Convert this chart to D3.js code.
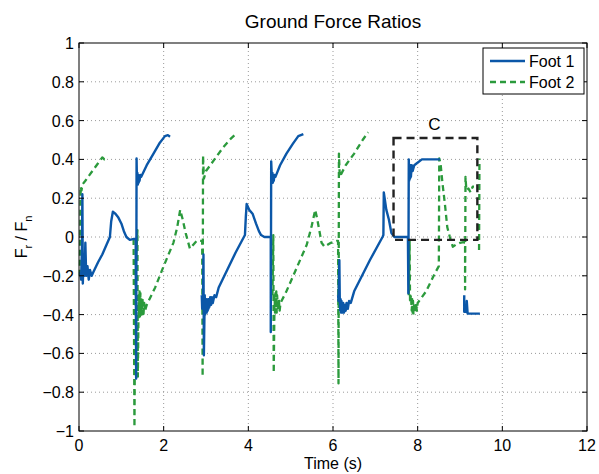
<!DOCTYPE html>
<html><head><meta charset="utf-8">
<script src="https://cdn.jsdelivr.net/npm/d3@7"></script>
<style>
body{margin:0;background:#fff}
text{font-family:"Liberation Sans",Arial,Helvetica,sans-serif;fill:#000}
</style>
</head><body>
<svg id="c" width="599" height="474"></svg>
<script>
// ---- data (time s, ratio) ; null = break in trace ----
const xTicks = [0, 2, 4, 6, 8, 10, 12];
const yTicks = [-1, -0.8, -0.6, -0.4, -0.2, 0, 0.2, 0.4, 0.6, 0.8, 1];
const seriesNames = ["Foot 1", "Foot 2"];

const foot1 = [
  [0.03,-0.18],[0.05,-0.22],[0.07,-0.05],[0.08,0.22],[0.09,-0.24],[0.11,-0.1],[0.13,-0.2],[0.15,-0.03],
  [0.17,-0.2],[0.2,-0.15],[0.23,-0.22],[0.26,-0.17],[0.3,-0.2],[0.34,-0.18],[0.45,-0.13],[0.55,-0.09],
  [0.65,-0.04],[0.73,0.0],[0.76,0.08],[0.8,0.13],[0.86,0.12],[0.93,0.1],[1.0,0.07],[1.06,0.03],
  [1.12,0.0],[1.2,-0.015],[1.3,-0.01],[1.34,-0.01],[1.35,-0.73],[1.36,0.405],[1.37,0.27],[1.38,0.33],
  [1.39,0.27],[1.40,0.32],[1.41,0.28],[1.42,0.31],[1.43,0.29],[1.45,0.32],[1.47,0.31],[1.6,0.37],
  [1.76,0.43],[1.91,0.486],[2.03,0.52],[2.1,0.525],[2.15,0.517],
  null,
  [2.9,-0.3],[2.91,-0.37],[2.93,-0.3],[2.94,-0.09],[2.95,-0.61],[2.97,-0.3],[2.98,-0.4],[2.99,-0.32],
  [3.0,-0.39],[3.01,-0.32],[3.02,-0.39],[3.03,-0.33],[3.04,-0.38],[3.05,-0.32],[3.06,-0.37],[3.07,-0.32],
  [3.08,-0.36],[3.1,-0.31],[3.12,-0.35],[3.14,-0.31],[3.16,-0.34],[3.2,-0.30],[3.24,-0.31],[3.3,-0.26],
  [3.5,-0.17],[3.7,-0.08],[3.92,0.01],[3.94,0.1],[3.96,0.17],[4.02,0.14],[4.1,0.12],[4.18,0.07],
  [4.25,0.03],[4.3,0.01],[4.38,0.0],[4.5,0.0],[4.53,0.0],[4.53,-0.49],[4.54,0.39],[4.56,0.28],
  [4.57,0.33],[4.58,0.28],[4.59,0.32],[4.6,0.29],[4.62,0.32],[4.64,0.31],[4.75,0.37],[4.9,0.43],
  [5.05,0.48],[5.18,0.52],[5.3,0.53],
  null,
  [6.12,-0.3],[6.13,-0.33],[6.15,-0.12],[6.16,-0.32],[6.17,-0.38],[6.18,-0.32],[6.19,-0.39],[6.2,-0.33],
  [6.21,-0.39],[6.22,-0.34],[6.23,-0.39],[6.24,-0.34],[6.26,-0.39],[6.28,-0.35],[6.3,-0.38],[6.32,-0.34],
  [6.35,-0.37],[6.38,-0.33],[6.42,-0.34],[6.5,-0.28],[6.87,-0.12],[7.17,0.0],[7.19,0.01],
  [7.2,0.23],[7.26,0.14],[7.32,0.09],[7.38,0.02],[7.45,0.0],[7.6,0.0],[7.77,0.0],[7.78,-0.29],
  [7.79,0.4],[7.8,0.29],[7.81,0.36],[7.82,0.3],[7.83,0.37],[7.84,0.31],[7.86,0.37],[7.88,0.34],
  [7.92,0.37],[7.98,0.38],[8.1,0.40],[8.53,0.40],
  null,
  [9.1,-0.30],[9.1,-0.385],[9.15,-0.385],[9.16,-0.33],[9.18,-0.395],[9.25,-0.395],[9.47,-0.395]
];

const foot2 = [
  [0.02,-0.2],[0.03,0.0],[0.04,0.26],[0.06,0.24],[0.08,0.27],[0.15,0.29],[0.25,0.32],[0.35,0.35],
  [0.45,0.38],[0.55,0.41],[0.6,0.40],[0.66,0.405],
  null,
  [1.29,-0.01],[1.31,-0.98],[1.33,-0.2],[1.38,0.035],[1.39,-0.72],[1.41,-0.3],[1.42,-0.4],[1.43,-0.28],
  [1.44,-0.41],[1.45,-0.29],[1.46,-0.41],[1.47,-0.31],[1.48,-0.4],[1.5,-0.32],[1.52,-0.41],[1.54,-0.34],
  [1.56,-0.38],[1.6,-0.35],[1.8,-0.26],[2.0,-0.15],[2.23,-0.03],
  [2.32,0.05],[2.39,0.14],[2.45,0.09],[2.52,0.02],[2.62,-0.06],[2.7,-0.04],[2.78,-0.02],[2.91,-0.02],
  [2.92,-0.72],[2.93,0.42],[2.95,0.30],[3.0,0.34],[3.2,0.40],[3.4,0.46],[3.6,0.51],[3.7,0.53],
  null,
  [4.57,-0.3],[4.59,0.01],[4.6,-0.70],[4.62,-0.3],[4.63,-0.39],[4.64,-0.29],[4.65,-0.39],[4.66,-0.28],
  [4.67,-0.39],[4.68,-0.3],[4.7,-0.38],[4.72,-0.32],[4.74,-0.38],[4.76,-0.34],[4.9,-0.28],[5.1,-0.18],
  [5.38,-0.04],[5.5,0.06],[5.58,0.14],[5.63,0.09],
  [5.73,-0.03],[5.8,-0.05],[5.95,-0.03],[6.09,-0.02],[6.12,-0.02],[6.13,-0.755],[6.14,0.43],[6.16,0.31],
  [6.3,0.37],[6.5,0.43],[6.7,0.50],[6.83,0.54],
  null,
  [7.79,-0.3],[7.81,-0.015],[7.82,-0.34],[7.84,-0.3],[7.86,-0.38],[7.87,-0.32],[7.88,-0.4],[7.89,-0.33],
  [7.9,-0.4],[7.92,-0.34],[7.94,-0.39],[7.96,-0.34],[7.98,-0.38],[8.0,-0.34],[8.2,-0.28],[8.4,-0.19],
  [8.5,-0.15],[8.51,0.405],[8.54,0.38],[8.58,0.29],
  [8.65,0.156],[8.7,0.05],[8.76,0.0],[8.83,-0.05],[8.9,-0.04],[9.0,-0.03],[9.08,-0.027],[9.12,-0.03],
  [9.12,-0.27],[9.13,0.31],[9.15,0.24],[9.2,0.25],[9.25,0.23],[9.3,0.26],[9.33,0.26],
  null,
  [9.45,-0.067],[9.46,0.405]
];

// annotation box "C"
const boxT = [7.43, 9.41];
const boxV = [-0.015, 0.51];
const boxLabel = "C";

// ---- drawing ----
const svg = d3.select("#c");
const L = 79, R = 587, T = 43, B = 431;
const x = d3.scaleLinear().domain([0, 12]).range([L, R]);
const y = d3.scaleLinear().domain([-1, 1]).range([B, T]);
const blue = "#0b57a8", green = "#2b9a3c";
const fmt = v => v === 0 ? "0" : String(+v.toFixed(1)).replace("-", "\u2212");

// grid
const g = svg.append("g");
g.selectAll(".gx").data(xTicks.slice(1, -1)).join("line")
  .attr("x1", d => x(d)).attr("x2", d => x(d)).attr("y1", T).attr("y2", B)
  .attr("stroke", "#9a9a9a").attr("stroke-width", 1).attr("stroke-dasharray", "1,3");
g.selectAll(".gy").data(yTicks.slice(1, -1)).join("line")
  .attr("y1", d => y(d)).attr("y2", d => y(d)).attr("x1", L).attr("x2", R)
  .attr("stroke", "#9a9a9a").attr("stroke-width", 1).attr("stroke-dasharray", "1,3");

// traces
const line = d3.line().defined(d => d !== null).x(d => x(d[0])).y(d => y(d[1]));
svg.append("path").datum(foot2).attr("d", line).attr("fill", "none")
  .attr("stroke", green).attr("stroke-width", 2.3).attr("stroke-dasharray", "6,4")
  .attr("stroke-linejoin", "round");
svg.append("path").datum(foot1).attr("d", line).attr("fill", "none")
  .attr("stroke", blue).attr("stroke-width", 2.4).attr("stroke-linejoin", "round");

// annotation box
svg.append("rect")
  .attr("x", x(boxT[0])).attr("y", y(boxV[1]))
  .attr("width", x(boxT[1]) - x(boxT[0])).attr("height", y(boxV[0]) - y(boxV[1]))
  .attr("fill", "none").attr("stroke", "#222").attr("stroke-width", 2.4)
  .attr("stroke-dasharray", "8,5");
svg.append("text").attr("x", x((boxT[0] + boxT[1]) / 2) - 1).attr("y", y(boxV[1]) - 8)
  .attr("text-anchor", "middle").attr("font-size", 17).text(boxLabel);

// axes box
svg.append("rect").attr("x", L).attr("y", T).attr("width", R - L).attr("height", B - T)
  .attr("fill", "none").attr("stroke", "#000").attr("stroke-width", 1);

// ticks (inward, mirrored)
const tk = 5;
xTicks.forEach(t => {
  svg.append("line").attr("x1", x(t)).attr("x2", x(t)).attr("y1", B).attr("y2", B - tk).attr("stroke", "#000");
  svg.append("line").attr("x1", x(t)).attr("x2", x(t)).attr("y1", T).attr("y2", T + tk).attr("stroke", "#000");
});
yTicks.forEach(v => {
  svg.append("line").attr("y1", y(v)).attr("y2", y(v)).attr("x1", L).attr("x2", L + tk).attr("stroke", "#000");
  svg.append("line").attr("y1", y(v)).attr("y2", y(v)).attr("x1", R).attr("x2", R - tk).attr("stroke", "#000");
});

// tick labels
svg.selectAll(".xl").data(xTicks).join("text")
  .attr("x", d => x(d)).attr("y", 451).attr("text-anchor", "middle")
  .attr("font-size", 16).text(d => d);
svg.selectAll(".yl").data(yTicks).join("text")
  .attr("x", 74).attr("y", d => y(d) + 6).attr("text-anchor", "end")
  .attr("font-size", 16).text(fmt);

// labels
svg.append("text").attr("x", (L + R) / 2).attr("y", 28).attr("text-anchor", "middle")
  .attr("font-size", 19).text("Ground Force Ratios");
svg.append("text").attr("x", (L + R) / 2).attr("y", 469).attr("text-anchor", "middle")
  .attr("font-size", 16).text("Time (s)");
const yl = svg.append("text").attr("transform", "translate(27,237) rotate(-90)")
  .attr("text-anchor", "middle").attr("font-size", 16);
yl.append("tspan").text("F");
yl.append("tspan").attr("font-size", 11).attr("dy", 5).text("r");
yl.append("tspan").attr("dy", -5).text(" / F");
yl.append("tspan").attr("font-size", 11).attr("dy", 5).text("n");

// legend
const lg = svg.append("g");
lg.append("rect").attr("x", 483).attr("y", 48).attr("width", 101).attr("height", 46)
  .attr("fill", "#fff").attr("stroke", "#000").attr("stroke-width", 1);
const cols = [blue, green], dashes = [null, "6,4"];
seriesNames.forEach((n, i) => {
  const yy = 61 + i * 21;
  lg.append("line").attr("x1", 490).attr("x2", 525).attr("y1", yy).attr("y2", yy)
    .attr("stroke", cols[i]).attr("stroke-width", 2.3).attr("stroke-dasharray", dashes[i]);
  lg.append("text").attr("x", 529).attr("y", yy + 6).attr("font-size", 16).text(n);
});
</script>
</body></html>
